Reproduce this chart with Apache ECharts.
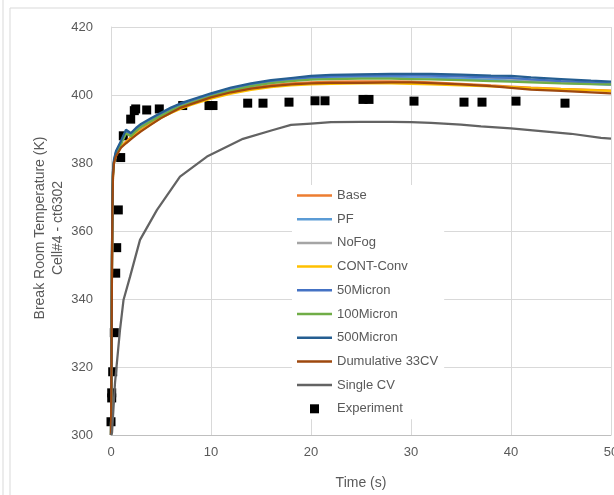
<!DOCTYPE html>
<html>
<head>
<meta charset="utf-8">
<script src="https://cdn.jsdelivr.net/npm/echarts@6/dist/echarts.min.js"></script>
<style>
html, body { margin: 0; padding: 0; background: #fff; }
#chart { width: 614px; height: 495px; }
</style>
</head>
<body>
<div id="chart"></div>
<script>
// time points shared by the model runs (s)
var time = [0, 0.05, 0.1, 0.15, 0.2, 0.3, 0.5, 1, 1.5, 2, 2.5, 3, 4, 5, 6, 7, 8, 10, 12, 14, 16, 18, 20, 22, 25, 28, 30, 32, 35, 38, 40, 42, 45, 48, 50];

var base      = [300, 321, 351, 369, 376.5, 380.2, 382.4, 384.9, 386.3, 387.6, 388.8, 389.8, 391.8, 393.6, 395.1, 396.5, 397.6, 399.5, 401.0, 402.1, 402.9, 403.4, 403.7, 403.9, 404.0, 404.0, 403.9, 403.7, 403.3, 402.8, 402.5, 402.2, 401.8, 401.5, 401.3];
var pf        = [300, 323, 353, 370.5, 377, 380.3, 382.8, 385.8, 389.0, 388.1, 389.6, 390.8, 392.5, 394.1, 395.6, 396.9, 397.9, 399.8, 401.5, 402.7, 403.7, 404.3, 404.8, 405.1, 405.3, 405.3, 405.2, 405.1, 404.8, 404.5, 404.3, 404.0, 403.6, 403.3, 403.0];
var noFog     = [300, 324, 354, 371, 377.5, 380.5, 383.0, 386.0, 389.2, 388.3, 389.8, 391.0, 392.7, 394.3, 395.8, 397.1, 398.1, 400.0, 401.8, 403.1, 404.1, 404.8, 405.4, 405.7, 405.9, 406.0, 405.9, 405.8, 405.5, 405.1, 404.8, 404.4, 403.9, 403.5, 403.2];
var contConv  = [300, 321, 351, 369, 376.5, 380.1, 382.2, 384.7, 386.0, 387.3, 388.5, 389.5, 391.4, 393.2, 394.7, 396.0, 397.1, 398.9, 400.4, 401.5, 402.3, 402.8, 403.1, 403.3, 403.4, 403.4, 403.3, 403.1, 402.8, 402.5, 402.3, 402.0, 401.7, 401.4, 401.2];
var micron50  = [300, 324, 354, 371, 377.5, 380.6, 383.2, 386.2, 389.4, 388.5, 390.0, 391.2, 392.9, 394.5, 396.0, 397.3, 398.3, 400.2, 401.9, 403.1, 404.1, 404.7, 405.2, 405.5, 405.7, 405.8, 405.8, 405.7, 405.5, 405.2, 405.0, 404.6, 404.1, 403.7, 403.4];
var micron100 = [300, 323, 353, 370.5, 377, 380.2, 382.6, 385.6, 388.7, 387.9, 389.4, 390.6, 392.3, 393.9, 395.4, 396.7, 397.7, 399.6, 401.3, 402.6, 403.5, 404.1, 404.5, 404.7, 404.8, 404.8, 404.7, 404.6, 404.4, 404.1, 403.9, 403.7, 403.4, 403.2, 403.1];
var micron500 = [300, 325, 355, 372, 378, 381, 383.5, 386.5, 389.8, 388.8, 390.3, 391.5, 393.2, 394.8, 396.3, 397.6, 398.6, 400.5, 402.2, 403.4, 404.4, 405.0, 405.6, 405.9, 406.1, 406.2, 406.2, 406.2, 406.0, 405.7, 405.6, 405.2, 404.7, 404.2, 403.9];
var cumul33   = [300, 320, 350, 368, 376, 380, 382, 384.5, 385.8, 387, 388.2, 389.3, 391.3, 393.2, 394.8, 396.3, 397.3, 399.3, 400.8, 401.9, 402.6, 403.1, 403.4, 403.6, 403.6, 403.7, 403.7, 403.5, 403.1, 402.6, 402.1, 401.6, 401.2, 400.8, 400.5];

// single CV run
var singleTime = [0, 0.1, 0.4, 0.9, 1.25, 1.9, 2.9, 4.6, 6.9, 9.6, 13.2, 16.2, 18, 20, 22, 25, 28, 30, 32, 35, 37, 40, 43, 46, 49, 50];
var singleCV   = [300, 300.6, 315.3, 330.9, 339.7, 346.5, 357.4, 366.2, 376, 381.9, 387.1, 389.7, 391.2, 391.6, 392, 392.1, 392.1, 392, 391.8, 391.3, 390.8, 390.2, 389.4, 388.6, 387.4, 387.2];

// experiment
var expTime = [0.0, 0.07, 0.07, 0.17, 0.33, 0.47, 0.57, 0.73, 0.97, 1.23, 1.97, 2.33, 2.47, 3.57, 4.83, 7.17, 9.8, 10.2, 13.67, 15.2, 17.8, 20.4, 21.4, 25.2, 25.8, 30.3, 35.3, 37.1, 40.5, 45.4];
var expTemp = [303.9, 310.9, 312.4, 318.6, 330.1, 347.6, 355.1, 366.2, 381.6, 388, 392.9, 395.4, 395.9, 395.6, 395.9, 396.9, 396.9, 396.9, 397.6, 397.6, 397.9, 398.3, 398.3, 398.7, 398.7, 398.2, 397.9, 397.9, 398.2, 397.6];

function pairs(xs, ys) {
	var out = [];
	for (var i = 0; i < xs.length; i++) out.push([xs[i], ys[i]]);
	return out;
}

var lines = [
	{ name: 'Base', data: base, color: '#ED7D31' },
	{ name: 'PF', data: pf, color: '#5B9BD5' },
	{ name: 'NoFog', data: noFog, color: '#A5A5A5' },
	{ name: 'CONT-Conv', data: contConv, color: '#FFC000' },
	{ name: '50Micron', data: micron50, color: '#4472C4' },
	{ name: '100Micron', data: micron100, color: '#70AD47' },
	{ name: '500Micron', data: micron500, color: '#255E91' },
	{ name: 'Dumulative 33CV', data: cumul33, color: '#9E480E' }
];

var series = [];
var legendData = [];
var lineIcon = 'path://M0,0 L35,0 L35,2.5 L0,2.5 Z';
lines.forEach(function (l) {
	series.push({
		name: l.name,
		type: 'line',
		data: pairs(time, l.data),
		symbol: 'none',
		color: l.color,
		lineStyle: { width: 2.25, color: l.color }
	});
	legendData.push({ name: l.name, icon: lineIcon });
});
series.push({
	name: 'Single CV',
	type: 'line',
	data: pairs(singleTime, singleCV),
	symbol: 'none',
	color: '#636363',
	lineStyle: { width: 2.25, color: '#636363' }
});
legendData.push({ name: 'Single CV', icon: lineIcon });
series.push({
	name: 'Experiment',
	type: 'scatter',
	data: pairs(expTime, expTemp),
	symbol: 'rect',
	symbolSize: 9,
	itemStyle: { color: '#000', opacity: 1 }
});
legendData.push({ name: 'Experiment', icon: 'path://M0,0 L10,0 L10,10 L0,10 Z' });

var txt = '#595959';
var font = 'Liberation Sans';

var chart = echarts.init(document.getElementById('chart'));
chart.setOption({
	animation: false,
	backgroundColor: '#fff',
	textStyle: { fontFamily: font },
	graphic: [
		{ type: 'line', shape: { x1: 3, y1: 0, x2: 3, y2: 495 }, style: { stroke: '#d9d9d9', lineWidth: 1 } },
		{ type: 'line', shape: { x1: 10, y1: 8, x2: 10, y2: 495 }, style: { stroke: '#d9d9d9', lineWidth: 1 } },
		{ type: 'line', shape: { x1: 10, y1: 8, x2: 614, y2: 8 }, style: { stroke: '#d9d9d9', lineWidth: 1 } },
		// y axis title, two lines
		{ type: 'text', x: 40, y: 228, rotation: Math.PI / 2,
			style: { text: 'Break Room Temperature (K)', fill: txt, fontSize: 14, fontFamily: font, align: 'center', verticalAlign: 'middle' } },
		{ type: 'text', x: 58, y: 228, rotation: Math.PI / 2,
			style: { text: 'Cell#4 - ct6302', fill: txt, fontSize: 14, fontFamily: font, align: 'center', verticalAlign: 'middle' } }
	],
	grid: { left: 111, top: 27, right: 3, bottom: 60, outerBoundsMode: 'none', containLabel: false },
	xAxis: {
		type: 'value',
		min: 0, max: 50, interval: 10,
		name: 'Time (s)',
		nameLocation: 'middle',
		nameGap: 41,
		nameTextStyle: { color: txt, fontSize: 14, fontFamily: font },
		axisLine: { show: true, lineStyle: { color: '#bfbfbf' } },
		axisTick: { show: false },
		axisLabel: { color: txt, fontSize: 13, margin: 11, fontFamily: font },
		splitLine: { show: true, lineStyle: { color: '#d9d9d9' } }
	},
	yAxis: {
		type: 'value',
		min: 300, max: 420, interval: 20,
		axisLine: { show: true, lineStyle: { color: '#d9d9d9' } },
		axisTick: { show: false },
		axisLabel: { color: txt, fontSize: 13, margin: 18, fontFamily: font },
		splitLine: { show: true, lineStyle: { color: '#d9d9d9' } }
	},
	legend: {
		orient: 'vertical',
		left: 292,
		top: 185,
		itemWidth: 35,
		itemHeight: 9,
		itemGap: 10.7,
		symbolKeepAspect: true,
		backgroundColor: '#fff',
		padding: [4, 6, 4, 5],
		textStyle: { color: txt, fontSize: 13, fontFamily: font },
		data: legendData
	},
	series: series
});
</script>
</body>
</html>
